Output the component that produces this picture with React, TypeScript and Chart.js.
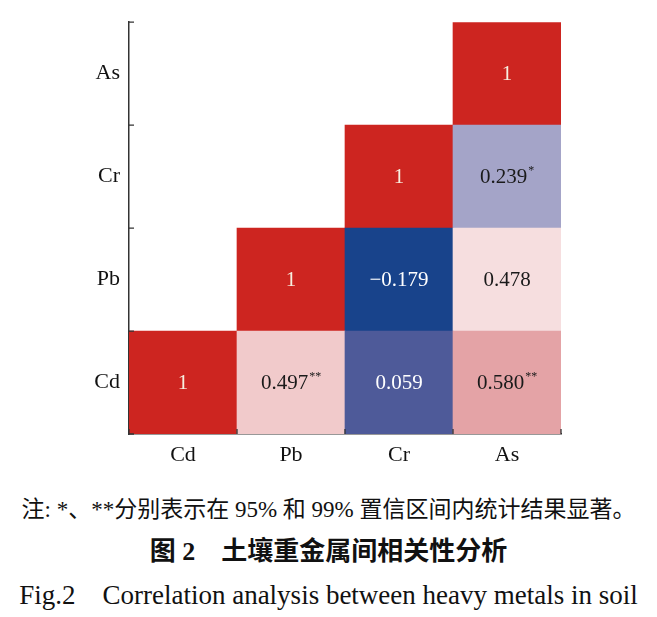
import React, { useEffect, useRef } from "react";
import { Chart, registerables } from "chart.js";

Chart.register(...registerables);

// Categories (columns left→right) and rows (bottom→top)
const columns = ["Cd", "Pb", "Cr", "As"];
const rows = ["Cd", "Pb", "Cr", "As"];

// Correlation values per row (null = empty upper-left half)
const cdRow: (number | null)[] = [1, 0.497, 0.059, 0.58];
const pbRow: (number | null)[] = [null, 1, -0.179, 0.478];
const crRow: (number | null)[] = [null, null, 1, 0.239];
const asRow: (number | null)[] = [null, null, null, 1];

// Significance marks
const cdSig = ["", "**", "", "**"];
const pbSig = ["", "", "", ""];
const crSig = ["", "", "", "*"];
const asSig = ["", "", "", ""];

// Cell colours
const cdColors = ["#CD2520", "#F1CACB", "#4E5A99", "#E4A3A6"];
const pbColors = ["", "#CD2520", "#18438B", "#F6DEDF"];
const crColors = ["", "", "#CD2520", "#A4A4C8"];
const asColors = ["", "", "", "#CD2520"];

// Text colours in cells
const cdText = ["#F7F0E0", "#1a1a1a", "#FFFFFF", "#1a1a1a"];
const pbText = ["", "#F7F0E0", "#FFFFFF", "#1a1a1a"];
const crText = ["", "", "#F7F0E0", "#1a1a1a"];
const asText = ["", "", "", "#F7F0E0"];

const rowValues = [cdRow, pbRow, crRow, asRow];
const rowSigs = [cdSig, pbSig, crSig, asSig];
const rowColors = [cdColors, pbColors, crColors, asColors];
const rowTexts = [cdText, pbText, crText, asText];

const noteText = "注: *、**分别表示在 95% 和 99% 置信区间内统计结果显著。";
const titleCn = "图 2\u3000土壤重金属间相关性分析";
const titleEn = "Fig.2\u2003Correlation analysis between heavy metals in soil";

const SERIF = '"Liberation Serif", "Times New Roman", serif';
const SERIF_CJK = '"Liberation Serif", "Times New Roman", "Noto Sans CJK SC"';
const AXIS = "#333333";

function fmt(v: number): string {
  if (v === 1) return "1";
  if (v < 0) return "\u2212" + Math.abs(v).toFixed(3);
  return v.toFixed(3);
}

const cellTextPlugin = {
  id: "cellText",
  afterDatasetsDraw(chart: any) {
    const ctx = chart.ctx;
    ctx.save();
    chart.data.datasets.forEach((_ds: any, i: number) => {
      const meta = chart.getDatasetMeta(i);
      meta.data.forEach((el: any, c: number) => {
        const v = rowValues[i][c];
        if (v === null || v === undefined) return;
        const { x, y } = el.getCenterPoint();
        const main = fmt(v);
        const sig = rowSigs[i][c];
        ctx.font = `21px ${SERIF}`;
        const mw = ctx.measureText(main).width;
        ctx.font = `12px ${SERIF}`;
        const sw = sig ? ctx.measureText(sig).width + 1 : 0;
        const left = x - (mw + sw) / 2;
        ctx.fillStyle = rowTexts[i][c];
        ctx.textBaseline = "middle";
        ctx.textAlign = "left";
        ctx.font = `21px ${SERIF}`;
        ctx.fillText(main, left, y + 1);
        if (sig) {
          ctx.font = `12px ${SERIF}`;
          ctx.fillText(sig, left + mw + 1, y - 6);
        }
      });
    });
    ctx.restore();
  },
};

const innerTicksPlugin = {
  id: "innerTicks",
  afterDraw(chart: any) {
    const ctx = chart.ctx;
    const { left, bottom } = chart.chartArea;
    const ys = chart.scales.y;
    const xs = chart.scales.x;
    ctx.save();
    ctx.strokeStyle = AXIS;
    ctx.lineWidth = 1.3;
    ctx.beginPath();
    for (let v = 0; v <= rows.length; v++) {
      const py = ys.getPixelForValue(v);
      ctx.moveTo(left, py);
      ctx.lineTo(left + 5, py);
    }
    for (let i = 0; i <= columns.length; i++) {
      const px = xs.getPixelForValue(i - 0.5);
      ctx.moveTo(px, bottom);
      ctx.lineTo(px, bottom - 5);
    }
    ctx.stroke();
    ctx.restore();
  },
};

export default function App() {
  const ref = useRef<HTMLCanvasElement>(null);

  useEffect(() => {
    document.body.style.margin = "0";
    const canvas = ref.current;
    if (!canvas) return;
    const datasets = rows.map((r, i) => ({
      label: r,
      data: rowValues[i].map((v) => (v === null ? null : 1)),
      backgroundColor: rowColors[i],
      borderWidth: 0,
      barPercentage: 1,
      categoryPercentage: 1,
    }));
    const chart = new Chart(canvas, {
      type: "bar",
      data: { labels: columns, datasets },
      options: {
        animation: false,
        responsive: false,
        events: [],
        layout: { padding: { top: 20, right: 96, left: 0, bottom: 0 } },
        plugins: { legend: { display: false }, tooltip: { enabled: false } },
        scales: {
          x: {
            stacked: true,
            z: 1,
            grid: { display: false, drawTicks: false },
            border: { display: true, color: AXIS, width: 1.5 },
            ticks: {
              color: "#111",
              font: { family: SERIF, size: 22 },
              padding: 8,
            },
            afterFit: (s: any) => {
              s.height = 36;
            },
          },
          y: {
            stacked: true,
            z: 1,
            min: 0,
            max: rows.length,
            grid: { display: false, drawTicks: false },
            border: { display: true, color: AXIS, width: 1.5 },
            afterBuildTicks: (s: any) => {
              s.ticks = rows.map((_r, i) => ({ value: i + 0.5 }));
            },
            ticks: {
              color: "#111",
              font: { family: SERIF, size: 22 },
              padding: 9,
              callback: (val: any) => rows[Math.floor(Number(val))],
            },
            afterFit: (s: any) => {
              s.width = 129;
            },
          },
        },
      },
      plugins: [cellTextPlugin, innerTicksPlugin],
    });
    return () => chart.destroy();
  }, []);

  const line = (top: number, h: number, style: React.CSSProperties, text: string) => (
    <div
      style={{
        position: "absolute",
        left: 0,
        top,
        width: 657,
        height: h,
        lineHeight: `${h}px`,
        textAlign: "center",
        whiteSpace: "pre",
        color: "#111",
        ...style,
      }}
    >
      {text}
    </div>
  );

  return (
    <div style={{ position: "relative", width: 657, height: 617, background: "#fff", overflow: "hidden" }}>
      <canvas ref={ref} width={657} height={470} style={{ position: "absolute", left: 0, top: 0 }} />
      {line(495, 30, { fontFamily: SERIF_CJK, fontSize: 23 }, noteText)}
      {line(536, 32, { fontFamily: SERIF_CJK, fontSize: 26, fontWeight: "bold" }, titleCn)}
      {line(578, 34, { fontFamily: SERIF, fontSize: 27 }, titleEn)}
    </div>
  );
}
